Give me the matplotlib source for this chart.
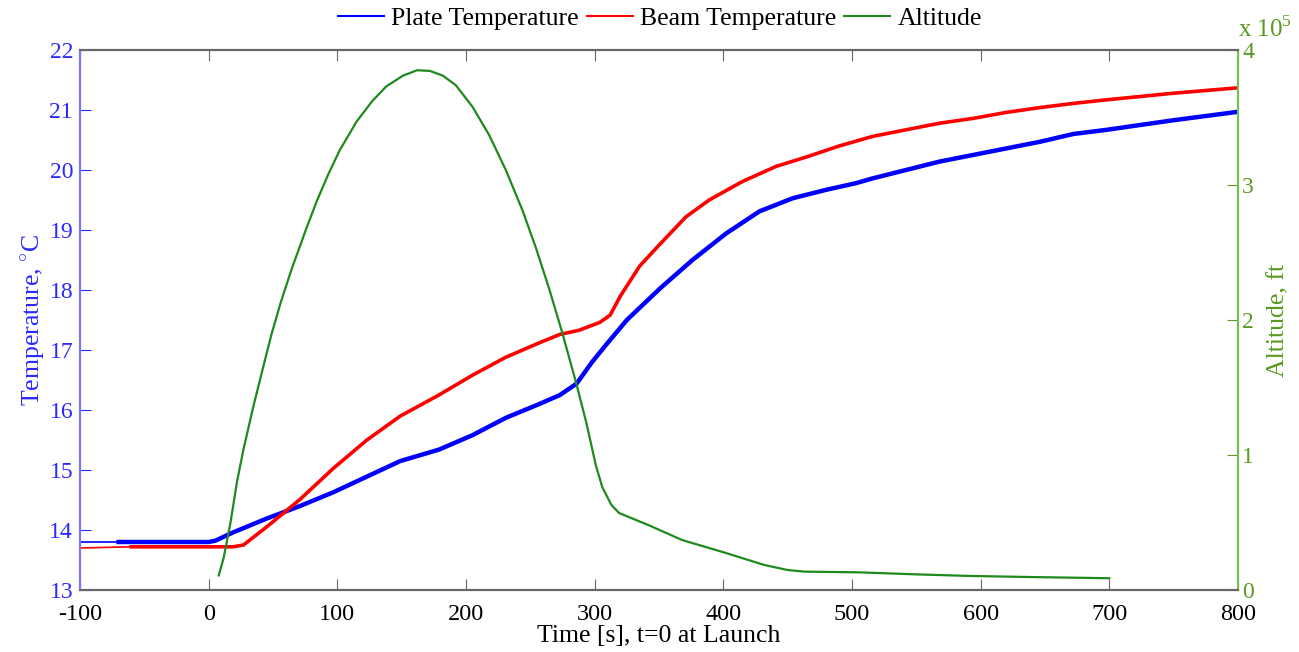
import matplotlib
matplotlib.use("Agg")
import matplotlib.pyplot as plt
import numpy as np

plt.rcParams['font.family'] = ['Liberation Serif', 'DejaVu Serif']
plt.rcParams['axes.unicode_minus'] = False
plt.rcParams['mathtext.fontset'] = 'custom'
plt.rcParams['mathtext.rm'] = 'Liberation Serif'

# Plate temperature (deg C)
plate_t = [-100, -70, 0, 5, 19, 45, 71, 97, 123, 149, 179, 205, 231, 257, 273, 286, 298, 309, 325, 351, 376,
           402, 428, 454, 480, 503, 516, 542, 568, 594, 620, 646, 672, 698, 750, 800]
plate_v = [13.8, 13.8, 13.8, 13.82, 13.96, 14.19, 14.40, 14.63, 14.89, 15.15, 15.34, 15.58, 15.87, 16.10, 16.25,
           16.44, 16.8, 17.09, 17.5, 18.03, 18.5, 18.94, 19.31, 19.53, 19.67, 19.78, 19.86, 20.0, 20.14, 20.25,
           20.36, 20.47, 20.6, 20.67, 20.83, 20.97]

# Beam temperature (deg C)
beam_t = [-100, -60, 19, 27, 45, 71, 97, 123, 149, 179, 205, 231, 257, 273, 288, 304, 312, 320, 335, 351, 371,
          389, 415, 441, 465, 490, 516, 542, 568, 594, 620, 646, 672, 698, 750, 800]
beam_v = [13.70, 13.72, 13.72, 13.75, 14.05, 14.51, 15.03, 15.50, 15.90, 16.25, 16.58, 16.88, 17.12, 17.26,
          17.33, 17.46, 17.58, 17.9, 18.4, 18.77, 19.22, 19.5, 19.81, 20.06, 20.22, 20.40, 20.56, 20.67, 20.78,
          20.86, 20.96, 21.04, 21.11, 21.17, 21.28, 21.37]

# Altitude (ft)
alt_t = [7.8, 11.6, 16.8, 22, 27, 35, 42.6, 49, 56, 64.6, 76, 84, 93, 102, 115, 127, 138, 151, 162, 172, 182,
         192, 205, 218, 231, 244, 254.5, 265, 275, 286, 293.5, 301, 306, 313, 319, 342, 368, 400, 432, 450, 463,
         505, 549, 592, 639, 688, 700]
alt_v = [10800, 23600, 49000, 80000, 104000, 137000, 166000, 190000, 213000, 238000, 268000, 288000, 308000,
         326000, 347000, 362000, 373000, 381000, 385000, 384500, 381000, 374000, 358000, 337000, 311000, 281000,
         253000, 222000, 190000, 152000, 124000, 92000, 76000, 63000, 57000, 48000, 37000, 28000, 18500, 14800,
         13600, 13100, 11600, 10400, 9600, 8900, 8700]

xticks = [-100, 0, 100, 200, 300, 400, 500, 600, 700, 800]
yticks = [13, 14, 15, 16, 17, 18, 19, 20, 21, 22]
y2ticks = [0, 1, 2, 3, 4]

BLUE = '#0000ff'
RED = '#ff0000'
GREEN = '#1e8a1e'
TBLUE = '#2a2aff'
TGREEN = '#5a9a20'
GRAY = '#666666'

fig = plt.figure(figsize=(12.99, 6.52), dpi=100)
ax = fig.add_axes([80/1299, 62/652, 1158/1299, 540/652])
ax2 = ax.twinx()

ax.plot(plate_t, plate_v, color=BLUE, lw=1.2)
l1, = ax.plot(plate_t[1:], plate_v[1:], color=BLUE, lw=3.2)
ax.plot(beam_t, beam_v, color=RED, lw=1.2)
l2, = ax.plot(beam_t[1:], beam_v[1:], color=RED, lw=2.6)
l3, = ax2.plot(alt_t, np.array(alt_v) / 1e5, color=GREEN, lw=1.6)

ax.set_xlim(-100, 800)
ax.set_ylim(13, 22)
ax2.set_ylim(0, 4)
ax.set_xticks(xticks)
ax.set_yticks(yticks)
ax2.set_yticks(y2ticks)

ax.tick_params(axis='x', direction='in', length=8, colors=GRAY, labelcolor='black', labelsize=17.5, top=True, pad=10)
ax.tick_params(axis='y', direction='in', length=8, colors=TBLUE, labelcolor=TBLUE, labelsize=17, right=False, pad=5)
ax2.tick_params(axis='y', direction='in', length=8, colors=TGREEN, labelcolor=TGREEN, labelsize=17, pad=3)

for a in (ax, ax2):
    a.spines['top'].set_color(GRAY)
    a.spines['bottom'].set_color(GRAY)
    a.spines['left'].set_color('#7777ff')
    a.spines['right'].set_color('#77bb55')
    for s in a.spines.values():
        s.set_linewidth(1.5)

ax.set_xlabel('Time [s], t=0 at Launch', fontsize=18.5, labelpad=0)
ax.set_ylabel('Temperature, $^{\\circ}$C', fontsize=18.5, color=TBLUE, labelpad=2)
ax2.set_ylabel('Altitude, ft', fontsize=18.5, color=TGREEN, labelpad=10)
ax2.text(1.0, 1.014, 'x 10$^5$', transform=ax2.transAxes, fontsize=18, color=TGREEN, ha='left', va='bottom')

fig.legend([l1, l2, l3], ['Plate Temperature', 'Beam Temperature', 'Altitude'],
           loc='center', bbox_to_anchor=(660/1299, 1 - 19/652), ncol=3, frameon=False,
           fontsize=18.5, handlelength=1.8, handletextpad=0.28, columnspacing=0.3)
for h in fig.legends[0].legend_handles:
    h.set_linewidth(1.5)

fig.savefig('out.png', dpi=100)
